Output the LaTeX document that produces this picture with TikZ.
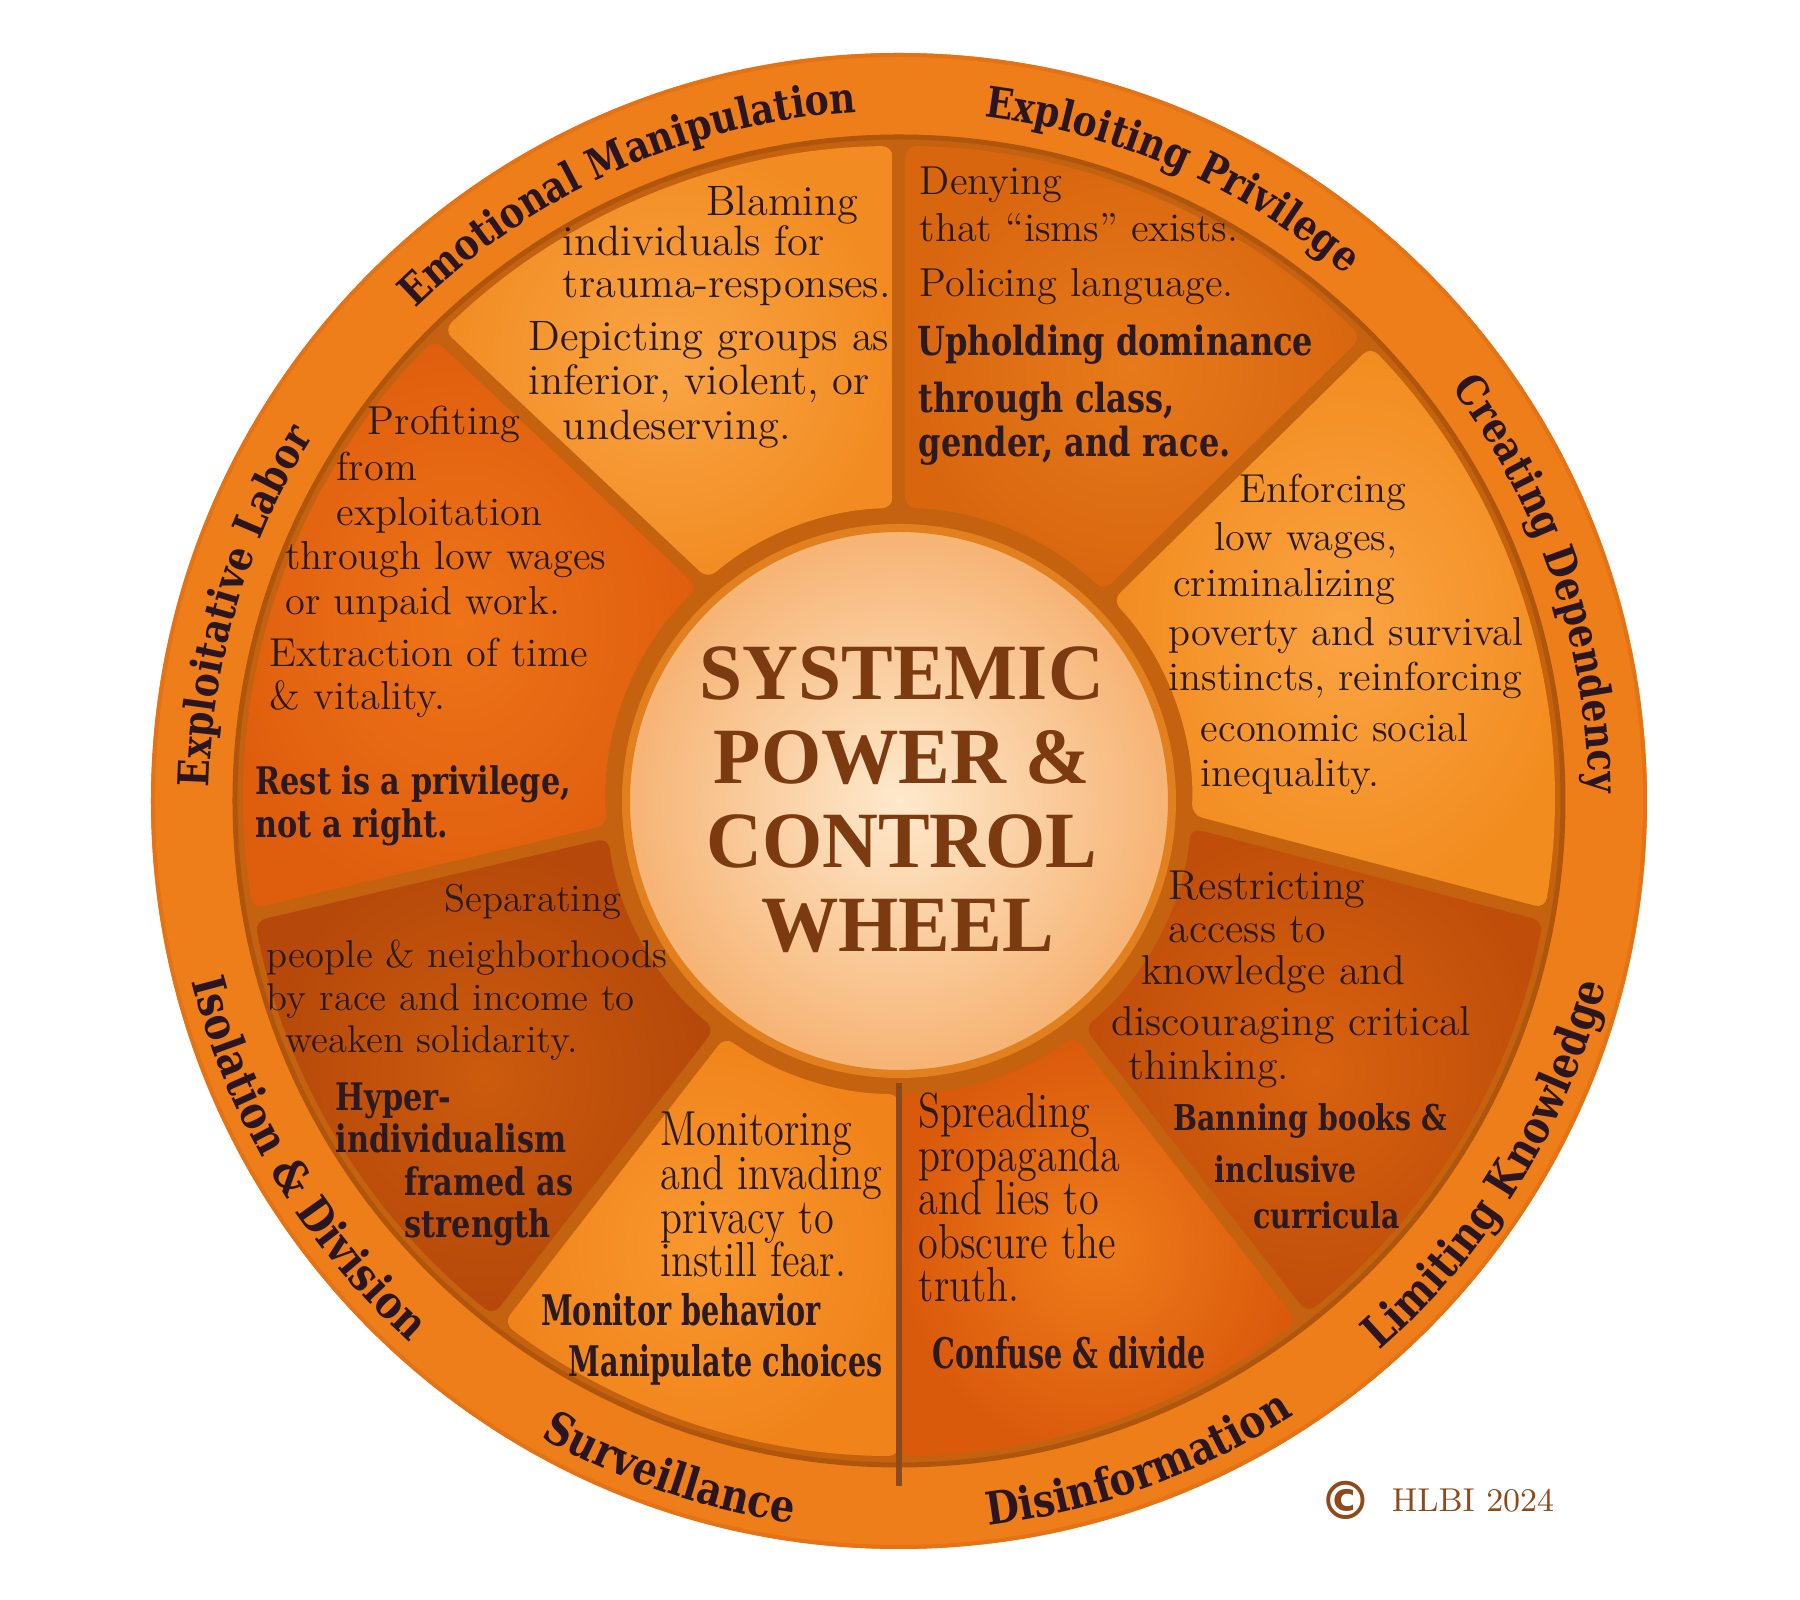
\documentclass[tikz,border=0pt]{standalone}
\usepackage{fontspec}
\usetikzlibrary{decorations.text}
\newfontfamily\heavyfam{DejaVu Serif}[FakeStretch=0.8]
\newfontfamily\heavyN{DejaVu Serif}[FakeStretch=0.68]
\newfontfamily\ringfam{DejaVu Serif}[FakeStretch=0.85]
\newfontfamily\titlefam{Liberation Serif}[FakeStretch=0.97]
\newfontfamily\narrowrm{Latin Modern Roman}[FakeStretch=0.82]
\newfontfamily\symfam{DejaVu Sans}
\definecolor{ink}{HTML}{2A1A22}
\definecolor{labelc}{HTML}{2A1620}
\definecolor{titlec}{HTML}{7B3A0F}
\definecolor{copyc}{HTML}{8E4A1A}
\definecolor{ringc}{HTML}{EE7E19}
\definecolor{ringedge}{HTML}{E57316}
\definecolor{chan}{HTML}{C4620F}
\definecolor{chanedge}{HTML}{B0560C}
\definecolor{hubin}{HTML}{FEE9CC}
\definecolor{hubout}{HTML}{F6B272}
\definecolor{hubedge}{HTML}{E2801F}
\definecolor{sepline}{HTML}{8A4A1C}
\definecolor{expIn}{HTML}{E77A1A}\definecolor{expOut}{HTML}{D8660F}
\definecolor{emoIn}{HTML}{F9A545}\definecolor{emoOut}{HTML}{F28C22}
\definecolor{labIn}{HTML}{EE7418}\definecolor{labOut}{HTML}{DF5E0E}
\definecolor{isoIn}{HTML}{CC5B0D}\definecolor{isoOut}{HTML}{B5480A}
\definecolor{surIn}{HTML}{F9982E}\definecolor{surOut}{HTML}{F0841B}
\definecolor{disIn}{HTML}{EF7C1A}\definecolor{disOut}{HTML}{DA5A0C}
\definecolor{limIn}{HTML}{D8620F}\definecolor{limOut}{HTML}{C04E0A}
\definecolor{creIn}{HTML}{FAA443}\definecolor{creOut}{HTML}{F28C1F}
\newcommand\ringT{\ringfam\bfseries\fontsize{12.1pt}{14pt}\selectfont}
\newcommand\ringB{\ringfam\bfseries\fontsize{12.9pt}{15pt}\selectfont}
\def\wro{6.55}
\def\wri{2.93}
\newcommand\wsector[7]{%
  \path[#7] ({#2+asin(#5/\wro)}:\wro) arc[start angle={#2+asin(#5/\wro)}, end angle={#4-asin(#6/\wro)}, radius=\wro]
    -- ({#3-asin(#6/\wri)}:\wri) arc[start angle={#3-asin(#6/\wri)}, end angle={#1+asin(#5/\wri)}, radius=\wri] -- cycle;}
\tikzset{
  bodytxt/.style={anchor=mid west, inner sep=0pt, yshift=-0.069cm, text=ink, font=\fontsize{#1}{13pt}\selectfont},
  bodytxt/.default=11.5pt,
  bodyN/.style={anchor=mid west, inner sep=0pt, yshift=-0.069cm, text=ink, font=\narrowrm\fontsize{14pt}{16pt}\selectfont},
  heavytxt/.style={anchor=mid west, inner sep=0pt, yshift=-0.069cm, text=ink, font=\heavyfam\bfseries\fontsize{#1}{13pt}\selectfont},
  heavytxt/.default=10.8pt,
  heavyNtxt/.style={anchor=mid west, inner sep=0pt, yshift=-0.069cm, text=ink, font=\heavyN\bfseries\fontsize{12pt}{14pt}\selectfont},
  titletxt/.style={anchor=center, inner sep=0pt, text=titlec, font=\titlefam\bfseries\fontsize{22.7pt}{26pt}\selectfont},
  sect/.style 2 args={shade, inner color=#1, outer color=#2, rounded corners=3pt},
  toplabel/.style={decorate, decoration={text along path, text align=center, text color=labelc, text={|\ringT|#1}}},
  botlabel/.style={decorate, decoration={text along path, text align=center, text color=labelc, text={|\ringB|#1}}}
}
\begin{document}
\begin{tikzpicture}
\useasboundingbox (-8.99,-7.99) rectangle (9.01,8.01);
\fill[white] (-8.99,-7.99) rectangle (9.01,8.01);
% ring and channels
\fill[ringc] (0,0) circle (7.48);
\draw[ringedge, line width=0.04cm] (0,0) circle (7.46);
\fill[chan] (0,0) circle (6.66);
\draw[chanedge, line width=0.05cm] (0,0) circle (6.64);
% sectors
\wsector{44.5}{44.5}{90}{90}{0.065}{0.065}{sect={expIn}{expOut}}
\wsector{90}{90}{132}{134.6}{0.065}{0.065}{sect={emoIn}{emoOut}}
\wsector{132}{134.6}{186}{190}{0.065}{0.065}{sect={labIn}{labOut}}
\wsector{186}{190}{232.3}{232.3}{0.065}{0.065}{sect={isoIn}{isoOut}}
\wsector{232.3}{232.3}{270}{270}{0.065}{0}{sect={surIn}{surOut}}
\wsector{270}{270}{308}{308}{0}{0.065}{sect={disIn}{disOut}}
\wsector{308}{308}{356}{350}{0.065}{0.065}{sect={limIn}{limOut}}
\wsector{356}{350}{404.5}{404.5}{0.065}{0.065}{sect={creIn}{creOut}}
% bottom separator
\coordinate (sepTop) at (270:2.82);
\coordinate (sepBot) at (270:6.85);
\draw[sepline, line width=0.055cm] (sepTop) -- (sepBot);
% hub
\shade[inner color=hubin, outer color=hubout] (0,0) circle (2.76);
\draw[hubedge, line width=0.08cm] (0,0) circle (2.73);
% ring labels
\path[toplabel={Emotional Manipulation}] (159:6.9) arc[start angle=159, end angle=69, radius=6.9];
\path[toplabel={Exploiting Privilege}] (111.3:6.9) arc[start angle=111.3, end angle=21.3, radius=6.9];
\path[toplabel={Creating Dependency}] (63.7:6.9) arc[start angle=63.7, end angle=-26.3, radius=6.9];
\path[toplabel={Exploitative Labor}] (208.5:6.9) arc[start angle=208.5, end angle=118.5, radius=6.9];
\path[botlabel={Limiting Knowledge}] (-76.7:7.3) arc[start angle=-76.7, end angle=13.3, radius=7.3];
\path[botlabel={Disinformation}] (-115.1:7.3) arc[start angle=-115.1, end angle=-25.1, radius=7.3];
\path[botlabel={Surveillance}] (-153.9:7.3) arc[start angle=-153.9, end angle=-63.9, radius=7.3];
\path[botlabel={Isolation {\&} Division}] (-193.9:7.3) arc[start angle=-193.9, end angle=-103.9, radius=7.3];
% texts in reference pixel coordinates
\begin{scope}[shift={(-8.99,8.01)}, x=0.01148cm, y=-0.01148cm]
% Emotional Manipulation
\node[bodytxt=12.1pt] (em1) at (615,175) {Blaming};
\node[bodytxt=12.1pt] (em2) at (490,210) {individuals for};
\node[bodytxt=12.1pt] (em3) at (490,247) {trauma-responses.};
\node[bodytxt=12.1pt] (em4) at (460,293) {Depicting groups as};
\node[bodytxt=12.1pt] (em5) at (460,331) {inferior, violent, or};
\node[bodytxt=12.1pt] (em6) at (490,370) {undeserving.};
% Exploiting Privilege
\node[bodytxt] (ep1) at (801,157) {Denying};
\node[bodytxt] (ep2) at (801,198) {that “isms” exists.};
\node[bodytxt] (ep3) at (801,246) {Policing language.};
\node[heavytxt=11.4pt] (ep4) at (799,297) {Upholding dominance};
\node[heavytxt=11.4pt] (ep5) at (800,347) {through class,};
\node[heavytxt=11.4pt] (ep6) at (800,385) {gender, and race.};
% Creating Dependency
\node[bodytxt] (cd1) at (1080,425) {Enforcing};
\node[bodytxt] (cd2) at (1058,467) {low wages,};
\node[bodytxt] (cd3) at (1022,507) {criminalizing};
\node[bodytxt] (cd4) at (1018,550) {poverty and survival};
\node[bodytxt] (cd5) at (1018,589) {instincts, reinforcing};
\node[bodytxt] (cd6) at (1046,634) {economic social};
\node[bodytxt] (cd7) at (1046,673) {inequality.};
% Limiting Knowledge
\node[bodytxt=11.9pt] (lk1) at (1018,771) {Restricting};
\node[bodytxt=11.9pt] (lk2) at (1018,809) {access to};
\node[bodytxt=11.9pt] (lk3) at (994,845) {knowledge and};
\node[bodytxt=11.9pt] (lk4) at (968,890) {discouraging critical};
\node[bodytxt=11.9pt] (lk5) at (983,928) {thinking.};
\node[heavytxt=10.1pt] (lk6) at (1022,973) {Banning books \&};
\node[heavytxt=10.1pt] (lk7) at (1058,1018) {inclusive};
\node[heavytxt=10.1pt] (lk8) at (1092,1058) {curricula};
% Disinformation
\node[bodyN] (di1) at (800,970) {Spreading};
\node[bodyN] (di2) at (800,1008) {propaganda};
\node[bodyN] (di3) at (800,1046) {and lies to};
\node[bodyN] (di4) at (800,1084) {obscure the};
\node[bodyN] (di5) at (800,1122) {truth.};
\node[heavyNtxt] (di6) at (812,1180) {Confuse \& divide};
% Surveillance
\node[bodyN] (sv1) at (575,986) {Monitoring};
\node[bodyN] (sv2) at (575,1024) {and invading};
\node[bodyN] (sv3) at (575,1062) {privacy to};
\node[bodyN] (sv4) at (575,1100) {instill fear.};
\node[heavyNtxt] (sv5) at (471,1143) {Monitor behavior};
\node[heavyNtxt] (sv6) at (495,1187) {Manipulate choices};
% Isolation & Division
\node[bodytxt=11pt] (id1) at (387,782) {Separating};
\node[bodytxt=11pt] (id2) at (232,831) {people \& neighborhoods};
\node[bodytxt=11pt] (id3) at (232,868) {by race and income to};
\node[bodytxt=11pt] (id4) at (248,905) {weaken solidarity.};
\node[heavytxt] (id5) at (292,955) {Hyper-};
\node[heavytxt] (id6) at (292,992) {individualism};
\node[heavytxt] (id7) at (352,1029) {framed as};
\node[heavytxt] (id8) at (352,1066) {strength};
% Exploitative Labor
\node[bodytxt] (el1) at (320,366) {Profiting};
\node[bodytxt] (el2) at (293,406) {from};
\node[bodytxt] (el3) at (293,445) {exploitation};
\node[bodytxt] (el4) at (248,484) {through low wages};
\node[bodytxt] (el5) at (248,523) {or unpaid work.};
\node[bodytxt] (el6) at (234,568) {Extraction of time};
\node[bodytxt] (el7) at (234,606) {\& vitality.};
\node[heavytxt] (el8) at (222,680) {Rest is a privilege,};
\node[heavytxt] (el9) at (222,717) {not a right.};
% Title
\node[titletxt] (t1) at (786,587) {SYSTEMIC};
\node[titletxt] (t2) at (786,660) {POWER \&};
\node[titletxt] (t3) at (786,733) {CONTROL};
\node[titletxt] (t4) at (791,807) {WHEEL};
% Copyright
\node[anchor=center, inner sep=0pt, text=copyc, font=\symfam\bfseries\fontsize{15pt}{17pt}\selectfont] (cc) at (1172.5,1307.5) {©};
\node[anchor=base west, inner sep=0pt, text=copyc, font=\fontsize{9.4pt}{11pt}\selectfont] (hl) at (1212.5,1317) {HLBI 2024};
\end{scope}
\end{tikzpicture}
\end{document}
